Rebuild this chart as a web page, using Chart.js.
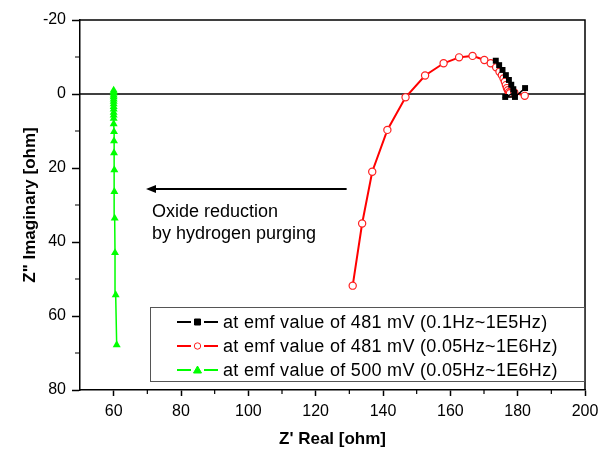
<!DOCTYPE html>
<html>
<head>
<meta charset="utf-8">
<script src="https://cdn.jsdelivr.net/npm/chart.js@4/dist/chart.umd.min.js"></script>
<style>
  html, body { margin: 0; padding: 0; background: #fff; }
  #wrap { width: 601px; height: 452px; position: relative; }
</style>
</head>
<body>
<div id="wrap"><canvas id="nyquistChart"></canvas></div>
<script>
// Z' (real) and Z" (imaginary) readings, ohm
const blackX = [173.5, 174.5, 175.5, 176.5, 177.4, 178.1, 178.7, 179.0, 176.3, 179.2, 182.2];
const blackY = [-9.0, -7.8, -6.5, -5.1, -3.8, -2.5, -1.3, -0.3, 0.8, 0.8, -1.6];

const redX = [131.0, 133.8, 136.8, 141.3, 146.7, 152.5, 158.0, 162.6, 166.6, 170.1, 172.0, 173.6,
  174.6, 175.3, 175.8, 176.2, 176.5, 176.8, 177.1, 177.4, 177.7, 179.0, 182.1];
const redY = [51.8, 35.0, 21.0, 9.7, 0.9, -5.0, -8.3, -9.9, -10.3, -9.2, -8.3, -7.2,
  -6.0, -5.1, -4.2, -3.3, -2.4, -1.6, -1.0, -0.5, -0.2, -0.4, 0.5];

const greenX = [60.9, 60.6, 60.4, 60.3, 60.2, 60.2, 60.1, 60.1, 60.1, 60.0, 60.0, 60.0,
  60.0, 60.0, 60.0, 60.0, 60.0, 60.0, 60.0, 60.0, 60.0, 60.0, 60.0];
const greenY = [67.8, 54.3, 42.9, 33.6, 26.4, 20.5, 15.9, 12.7, 10.2, 8.1, 6.6, 5.7,
  5.0, 4.1, 3.4, 2.7, 2.0, 1.4, 0.8, 0.3, -0.2, -0.6, -1.0];

const seriesLabels = [
  'at emf value of 481 mV (0.1Hz~1E5Hz)',
  'at emf value of 481 mV (0.05Hz~1E6Hz)',
  'at emf value of 500 mV (0.05Hz~1E6Hz)'
];

const xTicks = [60, 80, 100, 120, 140, 160, 180, 200];
const xMinorTicks = [70, 90, 110, 130, 150, 170, 190];
const yTicks = [-20, 0, 20, 40, 60, 80];
const yMinorTicks = [-10, 10, 30, 50, 70];

const arrowFrom = [129.2, 25.7];
const arrowTo = [69.6, 25.7];
const noteLines = ['Oxide reduction', 'by hydrogen purging'];

const FONT = 'Arial, "Liberation Sans", sans-serif';

const toPoints = (xs, ys) => xs.map((x, i) => ({ x: x, y: ys[i] }));

const extras = {
  id: 'extras',
  beforeDatasetsDraw(chart) {
    const { ctx, chartArea: a, scales: { x, y } } = chart;
    ctx.save();
    ctx.strokeStyle = '#000';
    ctx.lineWidth = 1.5;
    // zero line
    const y0 = y.getPixelForValue(0);
    ctx.beginPath();
    ctx.moveTo(a.left, y0);
    ctx.lineTo(a.right, y0);
    ctx.stroke();
    // top and right frame
    ctx.beginPath();
    ctx.moveTo(a.left, a.top);
    ctx.lineTo(a.right, a.top);
    ctx.lineTo(a.right, a.bottom);
    ctx.stroke();
    // minor ticks
    ctx.lineWidth = 1.2;
    ctx.beginPath();
    xMinorTicks.forEach(v => {
      const px = x.getPixelForValue(v);
      ctx.moveTo(px, a.bottom);
      ctx.lineTo(px, a.bottom + 4);
    });
    yMinorTicks.forEach(v => {
      const py = y.getPixelForValue(v);
      ctx.moveTo(a.left, py);
      ctx.lineTo(a.left - 5, py);
    });
    ctx.stroke();
    ctx.restore();
  },
  afterDraw(chart) {
    const { ctx, chartArea: a, scales: { x, y } } = chart;
    ctx.save();
    // arrow
    const ax1 = x.getPixelForValue(arrowFrom[0]);
    const ax2 = x.getPixelForValue(arrowTo[0]);
    const ay = y.getPixelForValue(arrowFrom[1]);
    ctx.strokeStyle = '#000';
    ctx.fillStyle = '#000';
    ctx.lineWidth = 2;
    ctx.beginPath();
    ctx.moveTo(ax1, ay);
    ctx.lineTo(ax2 + 6, ay);
    ctx.stroke();
    ctx.beginPath();
    ctx.moveTo(ax2, ay);
    ctx.lineTo(ax2 + 10, ay - 4);
    ctx.lineTo(ax2 + 10, ay + 4);
    ctx.closePath();
    ctx.fill();
    // note text
    ctx.font = '18px ' + FONT;
    ctx.textBaseline = 'alphabetic';
    ctx.textAlign = 'left';
    noteLines.forEach((t, i) => ctx.fillText(t, ax2 + 6, ay + 28 + i * 22));

    // legend box
    const bx = 150, by = a.bottom - 83, bw = a.right - bx, bh = 74;
    ctx.fillStyle = '#fff';
    ctx.fillRect(bx, by, bw, bh);
    ctx.strokeStyle = '#555';
    ctx.lineWidth = 1;
    ctx.strokeRect(bx + 0.5, by + 0.5, bw - 1, bh);
    ctx.font = '18px ' + FONT;
    ctx.letterSpacing = '0.3px';
    ctx.textBaseline = 'middle';
    chart.data.datasets.forEach((ds, i) => {
      const cy = by + 15 + i * 24;
      const lx = bx + 27;
      ctx.strokeStyle = ds.borderColor;
      ctx.lineWidth = 2;
      ctx.beginPath();
      ctx.moveTo(lx, cy);
      ctx.lineTo(lx + 14, cy);
      ctx.moveTo(lx + 27, cy);
      ctx.lineTo(lx + 41, cy);
      ctx.stroke();
      const mx = lx + 20.5;
      ctx.fillStyle = ds.pointBackgroundColor;
      ctx.strokeStyle = ds.pointBorderColor;
      ctx.lineWidth = 1;
      ctx.beginPath();
      if (ds.pointStyle === 'rect') {
        ctx.rect(mx - 3, cy - 3, 6, 6);
      } else if (ds.pointStyle === 'triangle') {
        ctx.moveTo(mx, cy - 4);
        ctx.lineTo(mx + 4, cy + 3);
        ctx.lineTo(mx - 4, cy + 3);
        ctx.closePath();
      } else {
        ctx.arc(mx, cy, 3.2, 0, Math.PI * 2);
      }
      ctx.fill();
      ctx.stroke();
      ctx.fillStyle = '#000';
      ctx.fillText(ds.label, lx + 46, cy + 1);
    });
    ctx.restore();
  }
};

new Chart(document.getElementById('nyquistChart'), {
  type: 'scatter',
  data: {
    datasets: [
      {
        label: seriesLabels[0],
        data: toPoints(blackX, blackY),
        showLine: true,
        borderColor: '#000',
        borderWidth: 1.5,
        pointStyle: 'rect',
        pointRadius: 4.2,
        pointBackgroundColor: '#000',
        pointBorderColor: '#000',
        pointBorderWidth: 0
      },
      {
        label: seriesLabels[1],
        data: toPoints(redX, redY),
        showLine: true,
        borderColor: '#ff0000',
        borderWidth: 2,
        pointStyle: 'circle',
        pointRadius: 3.6,
        pointBackgroundColor: '#fff',
        pointBorderColor: '#ff2020',
        pointBorderWidth: 1.2
      },
      {
        label: seriesLabels[2],
        data: toPoints(greenX, greenY),
        showLine: true,
        borderColor: '#00ff00',
        borderWidth: 1.5,
        pointStyle: 'triangle',
        pointRadius: 4.6,
        pointBackgroundColor: '#00ff00',
        pointBorderColor: '#00ff00',
        pointBorderWidth: 0
      }
    ]
  },
  options: {
    responsive: true,
    maintainAspectRatio: false,
    animation: false,
    layout: {
      padding: { top: 20, right: 16, left: 0, bottom: 0 }
    },
    plugins: {
      legend: { display: false },
      tooltip: { enabled: false }
    },
    scales: {
      x: {
        type: 'linear',
        position: 'bottom',
        min: 50,
        max: 200,
        afterBuildTicks: s => { s.ticks = xTicks.map(v => ({ value: v })); },
        afterFit: s => { s.height = 62; s.paddingRight = 0; s.paddingLeft = 0; },
        grid: {
          drawOnChartArea: false,
          tickLength: 6,
          tickColor: '#000',
          tickWidth: 1.5
        },
        border: { color: '#000', width: 1.5 },
        ticks: {
          color: '#000',
          padding: 6,
          maxRotation: 0,
          font: { family: FONT, size: 16 }
        },
        title: {
          display: true,
          text: "Z' Real [ohm]",
          color: '#000',
          font: { family: FONT, size: 17, weight: 'bold' },
          padding: { top: 0, bottom: 2 }
        }
      },
      y: {
        type: 'linear',
        reverse: true,
        min: -20,
        max: 80,
        afterBuildTicks: s => { s.ticks = yTicks.map(v => ({ value: v })); },
        afterFit: s => { s.width = 80; },
        grid: {
          drawOnChartArea: false,
          tickLength: 8,
          tickColor: '#000',
          tickWidth: 1.5
        },
        border: { color: '#000', width: 1.5 },
        ticks: {
          color: '#000',
          padding: 6,
          font: { family: FONT, size: 16 }
        },
        title: {
          display: true,
          text: 'Z" Imaginary [ohm]',
          color: '#000',
          font: { family: FONT, size: 17, weight: 'bold' },
          padding: { top: 20, bottom: 0 }
        }
      }
    }
  },
  plugins: [extras]
});
</script>
</body>
</html>
